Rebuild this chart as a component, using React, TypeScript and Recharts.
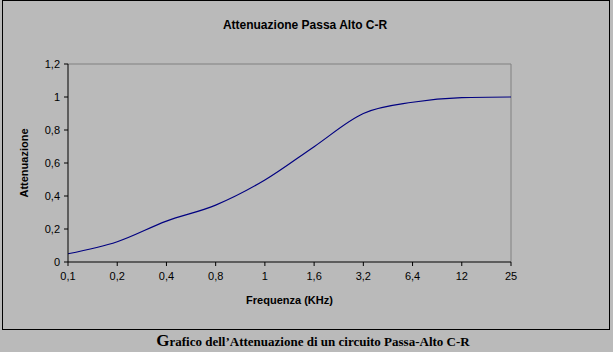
import { LineChart, Line, XAxis, YAxis, ReferenceLine } from "recharts";

const frequencies = ["0,1", "0,2", "0,4", "0,8", "1", "1,6", "3,2", "6,4", "12", "25"];
const attenuation = [0.05, 0.123, 0.248, 0.345, 0.497, 0.699, 0.9, 0.968, 0.996, 1.0];
const yTicks = [0, 0.2, 0.4, 0.6, 0.8, 1, 1.2];

const data = frequencies.map((f, i) => ({ freq: f, att: attenuation[i] }));

const bg = "#bababa";
const font = "'Liberation Sans', Arial, sans-serif";

export default function App() {
  return (
    <div
      style={{
        position: "absolute",
        left: 0,
        top: 0,
        width: 613,
        height: 352,
        background: bg,
        fontFamily: font,
      }}
    >
      <div
        style={{
          position: "absolute",
          left: 2,
          top: 0,
          width: 606,
          height: 328,
          border: "1px solid #000",
        }}
      />
      <div
        style={{
          position: "absolute",
          left: 0,
          width: 610,
          top: 18,
          textAlign: "center",
          fontSize: 12,
          fontWeight: "bold",
          color: "#000",
        }}
      >
        Attenuazione Passa Alto C-R
      </div>
      <div style={{ position: "absolute", left: 0, top: 0 }}>
        <LineChart
          width={613}
          height={352}
          data={data}
          margin={{ top: 64, right: 102, bottom: 60, left: 28 }}
        >
          <XAxis
            dataKey="freq"
            stroke="#000"
            tickLine={{ stroke: "#000" }}
            tickSize={4}
            tickMargin={6}
            height={30}
            interval={0}
            tick={{ fill: "#000", fontSize: 11, fontFamily: font }}
            label={{
              value: "Frequenza (KHz)",
              position: "insideBottom",
              offset: -12,
              fill: "#000",
              fontSize: 11,
              fontWeight: "bold",
              fontFamily: font,
            }}
          />
          <YAxis
            domain={[0, 1.2]}
            ticks={yTicks}
            width={40}
            stroke="#000"
            tickSize={4}
            tickMargin={4}
            interval={0}
            tickFormatter={(v: number) => String(Math.round(v * 10) / 10).replace(".", ",")}
            tick={{ fill: "#000", fontSize: 11, fontFamily: font }}
            label={{
              value: "Attenuazione",
              angle: -90,
              position: "insideLeft",
              offset: -4,
              style: { textAnchor: "middle" },
              fill: "#000",
              fontSize: 11,
              fontWeight: "bold",
              fontFamily: font,
            }}
          />
          <ReferenceLine y={1.2} stroke="#808080" />
          <ReferenceLine x="25" stroke="#808080" />
          <Line
            type="monotone"
            dataKey="att"
            stroke="#000080"
            strokeWidth={1.2}
            dot={false}
            isAnimationActive={false}
          />
        </LineChart>
      </div>
      <div
        style={{
          position: "absolute",
          left: 0,
          width: 626,
          top: 331,
          textAlign: "center",
          fontFamily: "'Liberation Serif', 'Times New Roman', serif",
          fontWeight: "bold",
          fontSize: 13,
          color: "#000",
        }}
      >
        <span style={{ fontSize: 17 }}>G</span>rafico dell’Attenuazione di un circuito Passa-Alto C-R
      </div>
    </div>
  );
}
